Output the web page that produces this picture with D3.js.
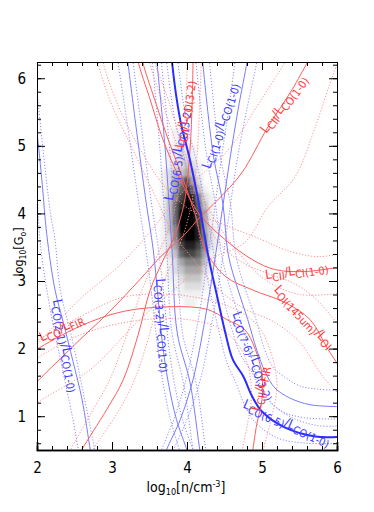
<!DOCTYPE html>
<html>
<head>
<meta charset="utf-8">
<script src="https://cdn.jsdelivr.net/npm/d3@7/dist/d3.min.js"></script>
<style>
  body { margin: 0; background: #fff; }
  svg { display: block; }
  text { font-family: "Liberation Sans Narrow", "DejaVu Sans Condensed", "Liberation Sans", sans-serif; }
</style>
</head>
<body>
<div id="chart"></div>
<script>
// ---- likelihood map (levels 0-9) ----
const blobCols = [3.68, 3.76, 3.84, 3.92, 4.00, 4.08, 4.16, 4.24, 4.32, 4.40, 4.48];
const blobRows = [5.20, 5.08, 4.96, 4.84, 4.72, 4.60, 4.48, 4.36, 4.24, 4.12, 4.00,
                  3.88, 3.76, 3.64, 3.52, 3.40, 3.28, 3.16, 3.04, 2.92, 2.80, 2.68];
const blobLevels = [
  "00110000000", "00111000000", "01121100000", "01122100000", "01223210000",
  "12334310000", "12457420000", "12468631000", "13579852100", "13689963100",
  "13699974100", "13699974100", "13599984210", "12589985210", "12478875210",
  "12367764100", "01245553100", "01234442100", "01123331000", "00112221000",
  "00011110000", "00001100000"
];

// ---- blue ratio curves [log n, log G0] ----
const co21Mid   = [[1.97,5.40],[2.00,5.19],[2.07,4.43],[2.13,3.69],[2.24,2.87],[2.35,2.39],[2.48,1.81],[2.60,1.25],[2.71,0.51],[2.73,0.40]];
const co21Lo    = [[1.97,5.20],[1.98,5.00],[2.04,3.61],[2.17,2.62],[2.35,1.64],[2.48,0.95],[2.55,0.51],[2.57,0.40]];
const co21Hi    = [[1.99,6.00],[2.00,5.83],[2.08,4.95],[2.18,4.00],[2.24,3.61],[2.31,2.87],[2.47,2.13],[2.61,1.39],[2.77,0.51],[2.79,0.40]];

const co32Mid   = [[3.19,6.40],[3.21,6.24],[3.33,5.20],[3.45,4.20],[3.55,3.46],[3.61,2.80],[3.67,2.10],[3.75,1.50],[3.86,0.95],[4.00,0.50],[4.03,0.40]];
const co32Lo    = [[3.06,6.40],[3.08,6.24],[3.22,5.20],[3.35,4.20],[3.46,3.40],[3.53,2.80],[3.60,2.10],[3.68,1.50],[3.78,0.95],[3.90,0.50],[3.93,0.40]];
const co32Hi    = [[3.26,6.40],[3.28,6.24],[3.40,5.20],[3.52,4.20],[3.62,3.46],[3.69,2.80],[3.75,2.10],[3.83,1.50],[3.94,0.95],[4.08,0.50],[4.11,0.40]];

const ci10Mid   = [[4.82,6.40],[4.80,6.24],[4.68,5.53],[4.57,4.79],[4.47,4.05],[4.37,3.31],[4.24,2.43],[4.08,1.54],[3.91,0.95],[3.73,0.51],[3.70,0.40]];
const ci10Lo    = [[4.66,6.40],[4.64,6.24],[4.55,5.50],[4.45,4.75],[4.36,4.00],[4.27,3.30],[4.15,2.43],[4.00,1.60],[3.84,1.00],[3.66,0.50],[3.63,0.40]];
const ci10Hi    = [[4.95,6.40],[4.93,6.24],[4.79,5.50],[4.67,4.80],[4.57,4.05],[4.47,3.30],[4.34,2.43],[4.18,1.55],[4.00,0.95],[3.82,0.50],[3.79,0.40]];

const co65Mid   = [[3.79,6.40],[3.80,6.24],[3.91,5.38],[4.04,4.79],[4.17,4.08],[4.28,3.39],[4.41,2.73],[4.51,2.24],[4.61,1.84],[4.75,1.59],[4.87,1.29],[5.00,1.07],[5.31,0.83],[5.71,0.70],[6.10,0.70]];
const co65Lo    = [[3.72,6.40],[3.73,6.24],[3.84,5.38],[3.97,4.79],[4.10,4.08],[4.21,3.39],[4.33,2.73],[4.43,2.24],[4.53,1.80],[4.65,1.50],[4.77,1.16],[4.90,0.92],[5.20,0.68],[5.60,0.60],[6.10,0.60]];
const co65Hi    = [[3.87,6.40],[3.88,6.24],[3.99,5.38],[4.12,4.79],[4.25,4.08],[4.36,3.39],[4.49,2.73],[4.60,2.28],[4.71,1.92],[4.86,1.66],[4.99,1.40],[5.12,1.20],[5.40,0.98],[5.75,0.86],[6.10,0.86]];

const co76Mid   = [[4.20,6.40],[4.21,6.24],[4.35,4.87],[4.48,4.13],[4.55,3.39],[4.68,2.87],[4.81,2.43],[4.93,1.98],[5.04,1.66],[5.17,1.42],[5.37,1.27],[5.64,1.17],[6.10,1.14]];
const co76Lo    = [[4.11,6.40],[4.12,6.24],[4.26,4.87],[4.38,4.13],[4.46,3.39],[4.58,2.87],[4.71,2.43],[4.83,1.98],[4.93,1.60],[5.05,1.30],[5.25,1.08],[5.55,0.98],[6.10,0.96]];
const co76Hi    = [[4.29,6.40],[4.30,6.24],[4.44,4.87],[4.58,4.13],[4.65,3.39],[4.78,2.87],[4.92,2.43],[5.03,2.00],[5.15,1.72],[5.30,1.58],[5.50,1.45],[5.75,1.40],[6.10,1.38]];

const co43Mid   = [[3.59,6.40],[3.60,6.24],[3.71,4.94],[3.80,3.46],[3.87,2.23],[4.04,1.50],[4.17,0.51],[4.19,0.40]];
const co43Lo    = [[3.53,6.40],[3.54,6.24],[3.64,4.94],[3.73,3.46],[3.80,2.23],[3.95,1.50],[4.08,0.51],[4.10,0.40]];
const co43Hi    = [[3.65,6.40],[3.66,6.24],[3.77,4.94],[3.87,3.46],[3.94,2.23],[4.12,1.50],[4.25,0.51],[4.27,0.40]];

// ---- red ratio curves ----
const ciiCo10Mid = [[1.95,1.45],[2.00,1.51],[2.57,2.13],[2.97,2.55],[3.37,3.02],[3.64,3.35],[3.97,3.69],[4.17,3.94],[4.41,4.20],[4.73,4.60],[5.08,5.28],[5.40,5.83],[5.61,6.24],[5.70,6.40]];
const ciiCo10Hi  = [[1.95,2.00],[2.00,2.06],[2.57,2.73],[3.11,3.24],[3.51,3.73],[3.97,4.35],[4.55,4.94],[4.93,5.58],[5.31,6.24],[5.40,6.40]];
const ciiCo10Lo  = [[1.95,1.15],[2.00,1.20],[2.71,1.69],[3.37,2.43],[3.91,2.95],[4.31,3.32],[4.77,3.57],[5.08,4.10],[5.44,4.54],[5.71,5.28],[5.93,6.00],[6.00,6.20]];

const firMid = [[1.95,1.95],[2.00,1.99],[2.57,2.33],[3.15,2.55],[3.81,2.62],[4.27,2.58],[4.53,2.43],[4.77,2.28],[4.91,1.99],[5.00,1.62],[5.00,1.25],[4.93,0.88],[4.88,0.51],[4.87,0.40]];
const firHi  = [[1.95,2.08],[2.00,2.12],[2.57,2.47],[3.15,2.76],[3.81,2.80],[4.35,2.70],[4.70,2.55],[4.97,2.30],[5.13,1.90],[5.20,1.45],[5.12,0.95],[5.02,0.51],[5.01,0.40]];
const firLo  = [[1.95,1.82],[2.00,1.86],[2.57,2.20],[3.24,2.40],[3.91,2.44],[4.40,2.32],[4.65,2.10],[4.80,1.80],[4.86,1.30],[4.80,0.85],[4.74,0.51],[4.73,0.40]];

const ciiCo32Mid = [[2.55,0.40],[2.60,0.51],[2.93,1.10],[3.15,1.54],[3.35,2.21],[3.51,2.87],[3.67,3.28],[3.84,3.68],[3.97,4.20],[4.04,4.94],[4.07,5.68],[4.08,6.24],[4.08,6.40]];
const ciiCo32Lo  = [[2.40,0.40],[2.45,0.51],[2.75,1.10],[2.97,1.54],[3.20,2.21],[3.40,2.87],[3.57,3.30],[3.75,3.75],[3.88,4.30],[3.95,5.00],[3.99,5.70],[4.00,6.24],[4.00,6.40]];
const ciiCo32Hi  = [[2.70,0.40],[2.75,0.51],[3.10,1.10],[3.30,1.54],[3.50,2.21],[3.65,2.87],[3.80,3.28],[3.95,3.68],[4.07,4.20],[4.14,4.94],[4.17,5.68],[4.19,6.24],[4.19,6.40]];

const ciiCiMid = [[3.33,6.40],[3.35,6.24],[3.51,5.68],[3.68,5.09],[3.91,4.50],[4.17,3.98],[4.51,3.61],[4.88,3.31],[5.17,3.17],[5.57,3.14],[6.10,3.22]];
const ciiCiHi  = [[2.86,6.40],[2.88,6.24],[3.05,5.68],[3.35,5.00],[3.70,4.40],[4.05,4.05],[4.50,3.83],[5.00,3.61],[5.31,3.46],[5.75,3.36],[6.10,3.42]];
const ciiCiLo  = [[3.55,6.40],[3.57,6.24],[3.75,5.68],[3.91,5.09],[4.11,4.50],[4.37,3.91],[4.71,3.39],[5.04,3.02],[5.51,2.80],[6.10,2.83]];

const oiMid = [[3.39,6.40],[3.41,6.24],[3.57,5.68],[3.75,5.09],[3.95,4.50],[4.11,3.98],[4.24,3.47],[4.51,3.07],[4.87,2.87],[5.31,2.68],[5.64,2.43],[5.88,1.99],[6.05,1.70]];
const oiHi  = [[3.48,6.40],[3.50,6.24],[3.66,5.68],[3.84,5.09],[4.05,4.50],[4.22,4.00],[4.40,3.60],[4.70,3.30],[5.10,3.10],[5.45,2.95],[5.75,2.70],[6.05,2.30]];
const oiLo  = [[2.79,6.40],[2.81,6.24],[2.97,5.68],[3.28,4.94],[3.60,4.20],[3.81,3.71],[4.10,3.30],[4.40,2.90],[4.75,2.60],[5.15,2.40],[5.50,2.10],[5.80,1.60],[6.05,1.30]];

// ---- curve labels: [text, log n, log G0, angle] ----
const blueLabels = [
  ["L_{CO(2-1)}/L_{CO(1-0)}", 2.33, 2.03, 79],
  ["L_{CO(3-2)}/L_{CO(1-0)}", 3.63, 2.34, 86],
  ["L_{CI(1-0)}/L_{CO(1-0)}", 4.49, 5.28, -72],
  ["L_{CO(6-5)}/L_{CO(3-2)}", 3.92, 4.87, -80],
  ["L_{CO(7-6)}/L_{CO(3-2)}", 4.84, 1.87, 68],
  ["L_{CO(6-5)}/L_{CO(1-0)}", 5.31, 0.85, 24]
];
const redLabels = [
  ["L_{CO}/L_{FIR}", 2.35, 2.25, -25],
  ["L_{CII}/L_{CO(1-0)}", 5.33, 5.58, -53],
  ["L_{CII}/L_{CO(3-2)}", 4.02, 5.46, -82],
  ["L_{CII}/L_{CI(1-0)}", 5.47, 3.09, -8],
  ["L_{OI(145um)}/L_{OI}", 5.52, 2.43, 47],
  ["L_{CII}/L_{FIR}", 5.03, 1.40, -80]
];

const xTicks = [2, 3, 4, 5, 6];
const yTicks = [1, 2, 3, 4, 5, 6];

// ---- chart ----
const W = 374, H = 512;
const x = d3.scaleLinear().domain([2, 6]).range([37, 337]);
const y = d3.scaleLinear().domain([0.5, 6.24]).range([450, 62]);

const svg = d3.select('#chart').append('svg')
  .attr('width', W).attr('height', H);

const defs = svg.append('defs');
defs.append('clipPath').attr('id', 'plot-clip')
  .append('rect')
  .attr('x', x(2)).attr('y', y(6.24))
  .attr('width', x(6) - x(2)).attr('height', y(0.5) - y(6.24));

const blurF = defs.append('filter').attr('id', 'soft')
  .attr('x', '-20%').attr('y', '-20%').attr('width', '140%').attr('height', '140%');
blurF.append('feGaussianBlur').attr('stdDeviation', 1.6);

const plot = svg.append('g').attr('clip-path', 'url(#plot-clip)');

// likelihood blob
const cells = [];
blobRows.forEach((gy, i) => {
  blobCols.forEach((nx, j) => {
    const lv = +blobLevels[i][j];
    if (lv > 0) cells.push({ nx, gy, lv });
  });
});
const cw = x(2.08) - x(2);
const ch = y(0.5) - y(0.62);
const grey = d3.scaleLinear().domain([0, 9]).range([0, 1]);
plot.append('g').attr('filter', 'url(#soft)')
  .selectAll('rect')
  .data(cells)
  .join('rect')
  .attr('x', d => x(d.nx) - cw / 2)
  .attr('y', d => y(d.gy) - ch / 2)
  .attr('width', cw + 0.5)
  .attr('height', ch + 0.5)
  .attr('fill', d => d3.interpolateGreys(grey(d.lv)));

const line = d3.line()
  .x(d => x(d[0]))
  .y(d => y(d[1]))
  .curve(d3.curveCatmullRom.alpha(0.5));

const RED = '#ff5c5c', RED_DOT = '#ff8f8f';
const BLUE = '#7a7aff', BLUE_DOT = '#8c8cff', BLUE_DARK = '#2b2bff';

const dotted = [
  [co21Lo, BLUE_DOT], [co21Hi, BLUE_DOT], [co32Lo, BLUE_DOT], [co32Hi, BLUE_DOT],
  [ci10Lo, BLUE_DOT], [ci10Hi, BLUE_DOT], [co65Lo, BLUE_DOT], [co65Hi, BLUE_DOT],
  [co76Lo, BLUE_DOT], [co76Hi, BLUE_DOT], [co43Lo, BLUE_DOT], [co43Hi, BLUE_DOT],
  [ciiCo10Hi, RED_DOT], [ciiCo10Lo, RED_DOT], [firHi, RED_DOT], [firLo, RED_DOT],
  [ciiCo32Lo, RED_DOT], [ciiCo32Hi, RED_DOT], [ciiCiHi, RED_DOT], [ciiCiLo, RED_DOT],
  [oiHi, RED_DOT], [oiLo, RED_DOT]
];
const solid = [
  [co21Mid, BLUE, 1], [co32Mid, BLUE, 1], [ci10Mid, BLUE, 1], [co76Mid, BLUE, 1], [co43Mid, BLUE, 1],
  [ciiCo10Mid, RED, 1], [firMid, RED, 1], [ciiCo32Mid, RED, 1], [ciiCiMid, RED, 1], [oiMid, RED, 1],
  [co65Mid, BLUE_DARK, 2]
];

plot.append('g').selectAll('path')
  .data(dotted)
  .join('path')
  .attr('d', d => line(d[0]))
  .attr('fill', 'none')
  .attr('stroke', d => d[1])
  .attr('stroke-width', 1)
  .attr('stroke-dasharray', '1.2,1.8');

plot.append('g').selectAll('path')
  .data(solid)
  .join('path')
  .attr('d', d => line(d[0]))
  .attr('fill', 'none')
  .attr('stroke', d => d[1])
  .attr('stroke-width', d => d[2]);

// labels with subscripts written as L_{...}
function addLabel(g, spec, colour) {
  const [txt, nx, gy, ang] = spec;
  const t = g.append('text')
    .attr('transform', `translate(${x(nx)},${y(gy)}) rotate(${ang})`)
    .attr('text-anchor', 'middle')
    .attr('dy', '0.3em')
    .attr('fill', colour)
    .style('font-size', '13px');
  const parts = txt.split(/(_\{[^}]*\})/).filter(s => s.length);
  let shifted = false;
  parts.forEach(p => {
    if (p.startsWith('_{')) {
      t.append('tspan').attr('dy', shifted ? 0 : 3).style('font-size', '11px').text(p.slice(2, -1));
      shifted = true;
    } else {
      t.append('tspan').attr('dy', shifted ? -3 : 0).text(p);
      shifted = false;
    }
  });
}
const labG = svg.append('g').attr('clip-path', 'url(#plot-clip)');
blueLabels.forEach(s => addLabel(labG, s, '#3c3cff'));
redLabels.forEach(s => addLabel(labG, s, '#ff3a3a'));

// axes (ticks point inward)
const tickFont = g => g.selectAll('text')
  .style('font-size', '15px')
  .style('font-family', '"Liberation Sans Narrow", "DejaVu Sans Condensed", sans-serif')
  .attr('fill', '#000');

const minorX = d3.range(2, 6.001, 0.2);
const minorY = d3.range(0.6, 6.24, 0.2);

const axBottom = svg.append('g').attr('transform', `translate(0,${y(0.5)})`);
axBottom.append('g').call(d3.axisBottom(x).tickValues(minorX).tickSize(-4).tickFormat(''));
axBottom.append('g').call(d3.axisBottom(x).tickValues(xTicks).tickSize(-8).tickPadding(12).tickFormat(d3.format('d'))).call(tickFont);

const axTop = svg.append('g').attr('transform', `translate(0,${y(6.24)})`);
axTop.append('g').call(d3.axisTop(x).tickValues(minorX).tickSize(-4).tickFormat(''));
axTop.append('g').call(d3.axisTop(x).tickValues(xTicks).tickSize(-8).tickFormat(''));

const axLeft = svg.append('g').attr('transform', `translate(${x(2)},0)`);
axLeft.append('g').call(d3.axisLeft(y).tickValues(minorY).tickSize(-4).tickFormat(''));
axLeft.append('g').call(d3.axisLeft(y).tickValues(yTicks).tickSize(-8).tickPadding(11).tickFormat(d3.format('d'))).call(tickFont);

const axRight = svg.append('g').attr('transform', `translate(${x(6)},0)`);
axRight.append('g').call(d3.axisRight(y).tickValues(minorY).tickSize(-4).tickFormat(''));
axRight.append('g').call(d3.axisRight(y).tickValues(yTicks).tickSize(-8).tickFormat(''));

svg.selectAll('.domain').attr('stroke', '#000').attr('stroke-width', 1);
svg.selectAll('.tick line').attr('stroke', '#000');
axBottom.selectAll('.domain').attr('stroke-width', 1.6);

// axis titles
const xt = svg.append('text')
  .attr('x', 186).attr('y', 492)
  .attr('text-anchor', 'middle')
  .style('font-size', '14px');
xt.append('tspan').text('log');
xt.append('tspan').attr('dy', 3).style('font-size', '9px').text('10');
xt.append('tspan').attr('dy', -3).text('[n/cm');
xt.append('tspan').attr('dy', -5).style('font-size', '9px').text('-3');
xt.append('tspan').attr('dy', 5).text(']');

const yt = svg.append('text')
  .attr('transform', `translate(23,252) rotate(-90)`)
  .attr('text-anchor', 'middle')
  .style('font-size', '12.5px');
yt.append('tspan').text('log');
yt.append('tspan').attr('dy', 3).style('font-size', '8.5px').text('10');
yt.append('tspan').attr('dy', -3).text('[G');
yt.append('tspan').attr('dy', 3).style('font-size', '8.5px').text('o');
yt.append('tspan').attr('dy', -3).text(']');
</script>
</body>
</html>
